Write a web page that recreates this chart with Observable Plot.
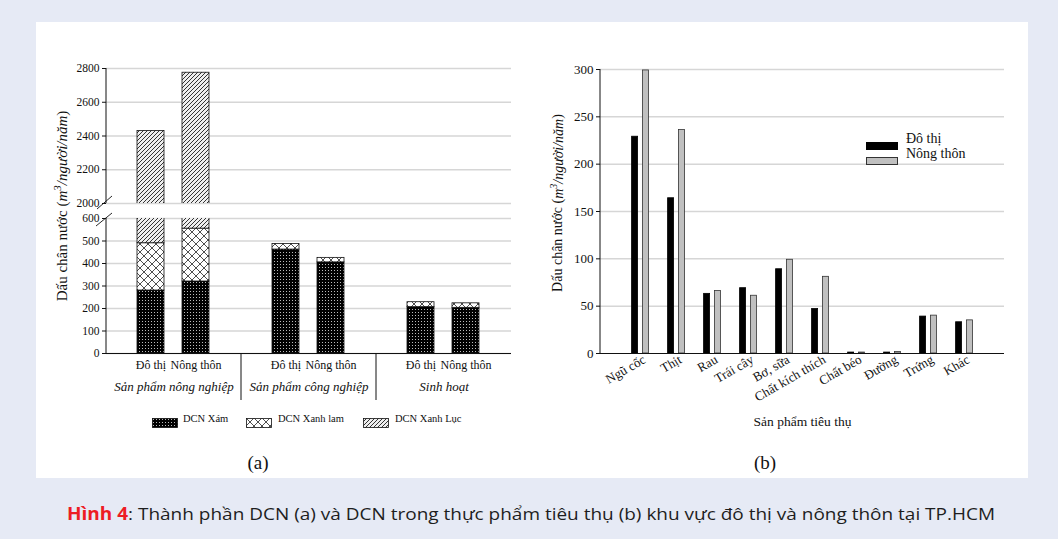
<!DOCTYPE html>
<html><head><meta charset="utf-8">
<script src="https://cdn.jsdelivr.net/npm/d3@7"></script>
<script src="https://cdn.jsdelivr.net/npm/@observablehq/plot@0.6"></script>
<style>
html,body{margin:0;padding:0}
body{width:1058px;height:539px;background:#e6eaf5;position:relative;overflow:hidden;font-family:"Liberation Serif",serif;color:#111}
#panel{position:absolute;left:36px;top:22px;width:992px;height:456px;background:#fff}
.abs{position:absolute}
.rot{position:absolute;transform:translate(-50%,-50%) rotate(-90deg);white-space:nowrap}
.leg{position:absolute;font-size:10.5px;white-space:nowrap;line-height:1}
.leg2{position:absolute;font-size:14px;white-space:nowrap;line-height:1}
#cap{position:absolute;left:67px;top:504px;font-family:"Open Sans","Noto Sans",sans-serif;font-size:17px;white-space:nowrap;transform-origin:0 0;color:#1e1e1e;line-height:1.2}
</style>
</head><body>
<svg width="0" height="0" style="position:absolute">
<defs>
<pattern id="pXam" width="3" height="3" patternUnits="userSpaceOnUse">
  <rect width="3" height="3" fill="#000"/><rect x="1" y="1" width="1" height="1" fill="#bbb"/>
</pattern>
<pattern id="pLam" width="8" height="8" patternUnits="userSpaceOnUse">
  <rect width="8" height="8" fill="#fff"/>
  <path d="M0,8 L8,0 M-2,2 L2,-2 M6,10 L10,6 M0,0 L8,8 M-2,6 L2,10 M6,-2 L10,2" stroke="#222" stroke-width="0.8"/>
</pattern>
<pattern id="pLuc" width="4" height="4" patternUnits="userSpaceOnUse">
  <rect width="4" height="4" fill="#eeeeee"/>
  <path d="M0,4 L4,0 M-1,1 L1,-1 M3,5 L5,3" stroke="#333" stroke-width="1"/>
</pattern>
</defs></svg>
<div id="panel"></div>
<div id="aTop" class="abs" style="left:0;top:50px;width:530px"></div>
<div id="aBot" class="abs" style="left:0;top:200px;width:530px"></div>
<div id="b" class="abs" style="left:530px;top:50px;width:500px"></div>
<div class="rot" style="left:61px;top:206px;font-size:15px">Dấu chân nước (<i>m<sup style="font-size:11px">3</sup>/người/năm</i>)</div>
<div class="rot" style="left:557px;top:203px;font-size:14px">Dấu chân nước (<i>m<sup style="font-size:10px">3</sup>/người/năm</i>)</div>
<div id="legA"></div>
<div id="legB"></div>
<div class="abs" style="left:258px;top:463px;transform:translate(-50%,-50%);font-size:19px">(a)</div>
<div class="abs" style="left:765px;top:463px;transform:translate(-50%,-50%);font-size:19px">(b)</div>
<div id="cap"><span style="color:#ed1c24;font-weight:700">Hình 4</span>: Thành phần DCN (a) và DCN trong thực phẩm tiêu thụ (b) khu vực đô thị và nông thôn tại TP.HCM</div>
<script>
// ---- Data (a) ----
const groupsA = ["Sản phẩm nông nghiệp", "Sản phẩm công nghiệp", "Sinh hoạt"];
const areas = ["Đô thị", "Nông thôn"];
const componentsA = ["DCN Xám", "DCN Xanh lam", "DCN Xanh Lục"];
// order: [nông nghiệp ĐT, NT, công nghiệp ĐT, NT, sinh hoạt ĐT, NT]
const xam     = [280, 320, 462, 405, 206, 203];
const xanhLam = [210, 235, 25, 20, 22, 20];
const xanhLuc = [1940, 2220, 0, 0, 0, 0];
const ticksTop = [2000, 2200, 2400, 2600, 2800];
const ticksBottom = [0, 100, 200, 300, 400, 500, 600];

// ---- Data (b) ----
const products = ["Ngũ cốc", "Thịt", "Rau", "Trái cây", "Bơ, sữa", "Chất kích thích", "Chất béo", "Đường", "Trứng", "Khác"];
const doThi    = [229, 164, 63, 69, 89, 47, 1, 1, 39, 33];
const nongThon = [299, 236, 66, 61, 99, 81, 1, 1.5, 40, 35];
const ticksB = [0, 50, 100, 150, 200, 250, 300];

const patternUrls = ["url(#pXam)", "url(#pLam)", "url(#pLuc)"];
const serif = "Liberation Serif";

const tableA = [];
groupsA.forEach((g, gi) => areas.forEach((a, ai) => {
  const i = gi * 2 + ai;
  [xam, xanhLam, xanhLuc].forEach((arr, ci) =>
    tableA.push({group: g, area: a, component: componentsA[ci], value: arr[i]}));
}));

const NS = "http://www.w3.org/2000/svg";
function addLine(svg, x1, y1, x2, y2, stroke = "#111", w = 1) {
  const l = document.createElementNS(NS, "line");
  l.setAttribute("x1", x1); l.setAttribute("y1", y1);
  l.setAttribute("x2", x2); l.setAttribute("y2", y2);
  l.setAttribute("stroke", stroke); l.setAttribute("stroke-width", w);
  svg.appendChild(l);
}

function panelA(domain, ticks, mt, mb, bottom) {
  const h = mt + 135 + mb;
  const marks = [
    Plot.gridY(ticks, {stroke: "#d6d6d6", strokeOpacity: 1, strokeWidth: 1.5}),
    Plot.barY(tableA, {filter: d => d.value > 0, fx: "group", x: "area", y: "value", fill: "component",
      stroke: "#111", strokeWidth: 0.8, clip: true}),
    Plot.axisY(ticks, {tickSize: 4, tickPadding: 3, tickFormat: d => String(d), fontSize: 11.5})
  ];
  if (bottom) {
    marks.push(
      Plot.ruleY([0], {stroke: "#111", strokeWidth: 1}),
      Plot.axisX({tickSize: 0, tickPadding: 7, fontSize: 12}),
      Plot.text(groupsA, {fx: d => d, text: d => d, frameAnchor: "bottom", dy: 37, fontStyle: "italic", fontSize: 13})
    );
  }
  const svg = Plot.plot({
    width: 530, height: h,
    marginLeft: 106, marginRight: 19, marginTop: mt, marginBottom: mb,
    style: {background: "none", fontFamily: serif, fontSize: "11.5px", color: "#111"},
    fx: {domain: groupsA, padding: 0, axis: null, label: null},
    x: {domain: areas, paddingInner: 0.39, paddingOuter: 0.695, axis: null, label: null},
    y: {domain, axis: null, label: null},
    color: {domain: componentsA, range: patternUrls},
    marks
  });
  const y = svg.scale("y");
  // y-axis line
  addLine(svg, 106, y.apply(domain[1]), 106, y.apply(domain[0]));
  // axis break marks
  if (!bottom) addLine(svg, 97, y.apply(domain[0]) + 6, 112, y.apply(domain[0]) - 7, "#111", 0.9);
  else {
    addLine(svg, 96, y.apply(domain[1]) + 8, 112, y.apply(domain[1]) - 5, "#111", 0.9);
    const fx = svg.scale("fx");
    const y0 = y.apply(0);
    [groupsA[1], groupsA[2]].forEach(g => {
      const x = fx.apply(g);
      addLine(svg, x, y0, x, y0 + 47, "#111", 1);
    });
  }
  return svg;
}

document.getElementById("aTop").appendChild(panelA([2000, 2800], ticksTop, 18, 12, false));
document.getElementById("aBot").appendChild(panelA([0, 600], ticksBottom, 18, 52, true));

// legend (a)
const legA = document.getElementById("legA");
const legPos = [[152, 183], [246, 278], [363, 395]];
componentsA.forEach((c, i) => {
  const s = document.createElement("div");
  s.className = "abs";
  s.style.left = legPos[i][0] + "px"; s.style.top = "414px";
  s.innerHTML = `<svg width="26" height="10"><rect x="0.5" y="0.5" width="25" height="9" fill="${patternUrls[i]}" stroke="#111" stroke-width="0.8"/></svg>`;
  legA.appendChild(s);
  const t = document.createElement("div");
  t.className = "leg";
  t.style.left = legPos[i][1] + "px"; t.style.top = "414px";
  t.textContent = c;
  legA.appendChild(t);
});

// ---- Chart (b) ----
const tableB = products.flatMap((p, i) => [
  {product: p, area: areas[0], value: doThi[i]},
  {product: p, area: areas[1], value: nongThon[i]}
]);
const svgB = Plot.plot({
  width: 500, height: 390,
  marginLeft: 70, marginRight: 26, marginTop: 19, marginBottom: 87,
  style: {background: "none", fontFamily: serif, fontSize: "13px", color: "#111"},
  x: {domain: products, paddingInner: 0.823, paddingOuter: 0.91, axis: null, label: null},
  y: {domain: [0, 300], axis: null, label: null},
  marks: [
    Plot.gridY(ticksB.filter(t => t > 0), {stroke: "#d6d6d6", strokeOpacity: 1, strokeWidth: 1.5}),
    Plot.barY(tableB, {filter: d => d.area === areas[0], x: "product", y1: 0, y2: "value", dx: -5.4, fill: "#000", stroke: "#000", strokeWidth: 0.8}),
    Plot.barY(tableB, {filter: d => d.area === areas[1], x: "product", y1: 0, y2: "value", dx: 5.4, fill: "#c0c0c0", stroke: "#333", strokeWidth: 0.8}),
    Plot.ruleY([0], {stroke: "#111", strokeWidth: 1}),
    Plot.axisY(ticksB, {tickSize: 4, tickPadding: 3, fontSize: 13}),
    Plot.axisX({tickSize: 0, tickPadding: 5, tickRotate: -30, fontSize: 13, dx: 4}),
    Plot.text(["Sản phẩm tiêu thụ"], {frameAnchor: "bottom", dy: 72, text: d => d, fontSize: 13.5})
  ]
});
{
  const y = svgB.scale("y");
  addLine(svgB, 70, y.apply(300), 70, y.apply(0));
}
document.getElementById("b").appendChild(svgB);

// legend (b)
document.getElementById("legB").innerHTML =
  `<div class="abs" style="left:866px;top:136px"><svg width="32" height="8"><rect x="0.5" y="0.5" width="31" height="7" fill="#000" stroke="#000"/></svg></div>
   <div class="leg2" style="left:906px;top:132px">${areas[0]}</div>
   <div class="abs" style="left:866px;top:151px"><svg width="32" height="8"><rect x="0.5" y="0.5" width="31" height="7" fill="#c0c0c0" stroke="#333"/></svg></div>
   <div class="leg2" style="left:906px;top:147px">${areas[1]}</div>`;

// caption fit
const cap = document.getElementById("cap");
const w = cap.getBoundingClientRect().width;
cap.style.transform = `scaleX(${928 / w})`;
</script>
</body></html>
